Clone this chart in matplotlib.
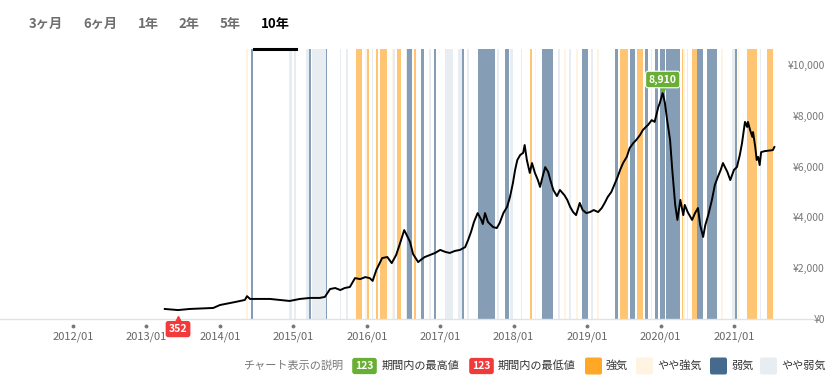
import matplotlib
matplotlib.use("Agg")
import matplotlib.pyplot as plt
from matplotlib import transforms
from matplotlib.patches import FancyBboxPatch

plt.rcParams['font.family'] = ['Noto Sans CJK JP', 'DejaVu Sans']

# 期間タブ
tabs = ["3ヶ月", "6ヶ月", "1年", "2年", "5年", "10年"]
tab_x = [46, 100, 148, 189, 230, 275]
selected_tab = "10年"

# 株価（年は小数表記）
years = [2013.25, 2013.43, 2013.59, 2013.91, 2014.00, 2014.21, 2014.34, 2014.37, 2014.41, 2014.68,
         2014.95, 2015.09, 2015.23, 2015.36, 2015.43, 2015.50, 2015.57, 2015.64, 2015.70, 2015.77,
         2015.84, 2015.91, 2015.98, 2016.04, 2016.08, 2016.13, 2016.21, 2016.28, 2016.34, 2016.40,
         2016.45, 2016.51, 2016.55, 2016.59, 2016.63, 2016.70, 2016.75, 2016.79, 2016.86, 2016.93,
         2017.00, 2017.07, 2017.13, 2017.20, 2017.27, 2017.34, 2017.38, 2017.42, 2017.46, 2017.51,
         2017.56, 2017.58, 2017.61, 2017.65, 2017.72, 2017.77, 2017.81, 2017.86, 2017.91, 2017.95,
         2017.99, 2018.02, 2018.05, 2018.09, 2018.13, 2018.15, 2018.18, 2018.22, 2018.25, 2018.29,
         2018.33, 2018.36, 2018.40, 2018.43, 2018.47, 2018.50, 2018.54, 2018.59, 2018.63, 2018.69,
         2018.73, 2018.77, 2018.81, 2018.85, 2018.90, 2018.94, 2018.99, 2019.04, 2019.09, 2019.15,
         2019.20, 2019.24, 2019.28, 2019.33, 2019.37, 2019.41, 2019.45, 2019.49, 2019.54, 2019.58,
         2019.63, 2019.67, 2019.72, 2019.76, 2019.80, 2019.83, 2019.88, 2019.92, 2019.97, 2019.99,
         2020.03, 2020.06, 2020.09, 2020.13, 2020.16, 2020.20, 2020.23, 2020.27, 2020.31, 2020.33,
         2020.37, 2020.43, 2020.47, 2020.51, 2020.54, 2020.58, 2020.61, 2020.65, 2020.70, 2020.74,
         2020.78, 2020.82, 2020.85, 2020.91, 2020.95, 2021.00, 2021.04, 2021.08, 2021.11, 2021.15,
         2021.18, 2021.19, 2021.22, 2021.25, 2021.26, 2021.29, 2021.31, 2021.33, 2021.35, 2021.37,
         2021.42, 2021.53, 2021.55]
prices = [395, 352, 395, 435, 550, 670, 750, 900, 790, 790,
          710, 790, 830, 830, 870, 1180, 1220, 1140, 1220, 1260,
          1610, 1570, 1650, 1610, 1500, 1930, 2400, 2440, 2200, 2520,
          2950, 3500, 3270, 3030, 2560, 2240, 2360, 2440, 2520, 2600,
          2720, 2640, 2600, 2680, 2720, 2830, 3110, 3430, 3820, 4170,
          3900, 3740, 4170, 3820, 3620, 3580, 3780, 4170, 4410, 4800,
          5350, 5870, 6260, 6460, 6540, 6850, 6260, 5750, 6140, 5750,
          5470, 5200, 5670, 5980, 5790, 5470, 5080, 4840, 5080, 4880,
          4690, 4410, 4210, 4090, 4570, 4290, 4170, 4210, 4290, 4210,
          4370, 4570, 4800, 5000, 5280, 5550, 5870, 6140, 6380, 6730,
          6930, 7050, 7240, 7440, 7560, 7640, 7830, 7760, 8350, 8500,
          8910, 8500, 7830, 7050, 5870, 4490, 3900, 4690, 4090, 4490,
          4210, 3900, 4170, 4370, 3700, 3230, 3700, 4090, 4690, 5280,
          5590, 5870, 6140, 5790, 5470, 5870, 5980, 6460, 6930, 7760,
          7560, 7760, 7440, 7170, 7360, 6770, 6260, 6380, 6060, 6570,
          6610, 6650, 6770]

# 地合い（開始年, 終了年）
strong_bull = [(2015.85, 2015.94), (2016.01, 2016.03), (2016.13, 2016.15), (2016.18, 2016.28),
               (2016.41, 2016.46), (2016.65, 2016.67), (2018.22, 2018.25), (2019.45, 2019.56),
               (2019.68, 2019.76), (2020.29, 2020.31), (2020.43, 2020.50), (2021.18, 2021.31),
               (2021.45, 2021.53)]
bull = [(2014.36, 2014.38), (2015.98, 2016.00), (2016.34, 2016.36), (2018.29, 2018.31),
        (2018.69, 2018.71), (2018.85, 2018.87), (2019.14, 2019.16), (2020.31, 2020.33),
        (2020.83, 2020.85), (2021.05, 2021.07)]
strong_bear = [(2014.42, 2014.45), (2015.22, 2015.24), (2015.44, 2015.46), (2016.55, 2016.62),
               (2016.74, 2016.78), (2016.92, 2016.94), (2017.30, 2017.33), (2017.51, 2017.75),
               (2017.88, 2017.94), (2018.39, 2018.54), (2018.93, 2019.01), (2019.38, 2019.42),
               (2019.58, 2019.65), (2019.79, 2019.83), (2019.92, 2019.97), (2019.99, 2020.06),
               (2020.08, 2020.27), (2020.50, 2020.58), (2020.63, 2020.77), (2021.01, 2021.04)]
bear = [(2014.94, 2014.98), (2015.01, 2015.04), (2015.17, 2015.21), (2015.25, 2015.44),
        (2015.63, 2015.65), (2015.72, 2015.74), (2016.07, 2016.09), (2016.36, 2016.38),
        (2016.53, 2016.55), (2016.85, 2016.87), (2017.07, 2017.17), (2017.24, 2017.30),
        (2017.37, 2017.39), (2017.78, 2017.80), (2017.95, 2017.99), (2018.10, 2018.12),
        (2018.61, 2018.63), (2018.76, 2018.78), (2019.06, 2019.08), (2019.87, 2019.89),
        (2020.36, 2020.38), (2020.98, 2021.01), (2021.35, 2021.37)]

x_ticks = list(range(2012, 2022))
y_ticks = [0, 2000, 4000, 6000, 8000, 10000]

# 色
c_strong_bull = "#FFA726"
c_bull = "#FFF3E2"
c_strong_bear = "#456A8E"
c_bear = "#E8EDF2"
c_high = "#6AAF35"
c_low = "#F23A3A"

W, H = 830, 383
fig = plt.figure(figsize=(W / 100, H / 100), dpi=100)


def fx(x):
    return x / W


def fy(y):
    return 1 - y / H


ax = fig.add_axes([0, fy(319), fx(815), (319 - 49) / H])
ax.set_xlim(2012 - 73 / 73.44, 2012 + (815 - 73) / 73.44)
ax.set_ylim(0, 10630)

for spans, col, a in [(bear, c_bear, 1.0), (bull, c_bull, 1.0),
                      (strong_bear, c_strong_bear, 0.65), (strong_bull, c_strong_bull, 0.65)]:
    for s, e in spans:
        ax.axvspan(s, e, color=col, alpha=a, lw=0, zorder=1)

ax.plot(years, prices, color="black", lw=1.4, zorder=4)

# 軸
for side in ["top", "left", "right"]:
    ax.spines[side].set_visible(False)
ax.spines["bottom"].set_color("#DDE3E8")
ax.spines["bottom"].set_linewidth(1)
ax.set_xticks(x_ticks)
ax.set_xticklabels([f"{y}/01" for y in x_ticks])
ax.tick_params(axis="x", length=0, pad=9, labelsize=8, labelcolor="#666666")
dots = transforms.offset_copy(ax.transData, fig=fig, x=0, y=-5, units="points")
ax.plot(x_ticks, [0] * len(x_ticks), ls="none", marker="o", ms=1.8, color="#777777",
        transform=dots, clip_on=False)

ax.yaxis.tick_right()
ax.set_yticks(y_ticks)
ax.set_yticklabels([f"¥{v:,}" for v in y_ticks])
ax.tick_params(axis="y", length=0, pad=7.2, labelsize=7.5, labelcolor="#777777")
for lab in ax.get_yticklabels():
    lab.set_horizontalalignment("right")

# 最高値・最低値のラベル
hi = prices.index(max(prices))
lo = prices.index(min(prices))
ax.annotate(f"{prices[hi]:,}", xy=(years[hi], prices[hi]), xytext=(0, 9.5), textcoords="offset points",
            ha="center", va="center", color="white", fontsize=7.5, fontweight="bold", zorder=7,
            bbox=dict(boxstyle="round,pad=0.3,rounding_size=0.25", fc=c_high, ec="white", lw=0.8))
up = transforms.offset_copy(ax.transData, fig=fig, x=0, y=3.2, units="points")
ax.plot([years[hi]], [prices[hi]], marker="v", ms=5.5, color=c_high, transform=up, zorder=6)

ax.annotate(f"{prices[lo]:,}", xy=(years[lo], prices[lo]), xytext=(0, -13.7), textcoords="offset points",
            ha="center", va="center", color="white", fontsize=7.5, fontweight="bold", zorder=7,
            annotation_clip=False,
            bbox=dict(boxstyle="round,pad=0.3,rounding_size=0.25", fc=c_low, ec="none"))
down = transforms.offset_copy(ax.transData, fig=fig, x=0, y=-6.5, units="points")
ax.plot([years[lo]], [prices[lo]], marker="^", ms=5, color=c_low, transform=down, zorder=7,
        clip_on=False)

# タブ
for t, x in zip(tabs, tab_x):
    fig.text(fx(x), fy(24), t, ha="center", va="center", fontsize=9.5, fontweight="bold",
             color="black" if t == selected_tab else "#6E6E6E")
fig.add_artist(plt.Line2D([fx(254), fx(296)], [fy(49), fy(49)], color="black", lw=2.2))

# 凡例
ly = 366
fig.text(fx(243), fy(ly), "チャート表示の説明", ha="left", va="center", fontsize=8, color="#777777")
for x, col in [(364.5, c_high), (481.5, c_low)]:
    fig.text(fx(x), fy(ly), "123", ha="center", va="center", fontsize=7.5, fontweight="bold",
             color="white", bbox=dict(boxstyle="round,pad=0.3,rounding_size=0.25", fc=col, ec="none"))
fig.text(fx(382), fy(ly), "期間内の最高値", ha="left", va="center", fontsize=8, color="#333333")
fig.text(fx(498), fy(ly), "期間内の最低値", ha="left", va="center", fontsize=8, color="#333333")
for x0, col, lab in [(585, c_strong_bull, "強気"), (636, c_bull, "やや強気"),
                     (710, c_strong_bear, "弱気"), (760, c_bear, "やや弱気")]:
    fig.add_artist(FancyBboxPatch((x0, H - ly - 8.5), 17, 17, boxstyle="round,pad=0,rounding_size=2",
                                  fc=col, ec="none", transform=transforms.IdentityTransform()))
    fig.text(fx(x0 + 21), fy(ly), lab, ha="left", va="center", fontsize=8, color="#333333")

fig.savefig("out.png", dpi=100, facecolor="white")
